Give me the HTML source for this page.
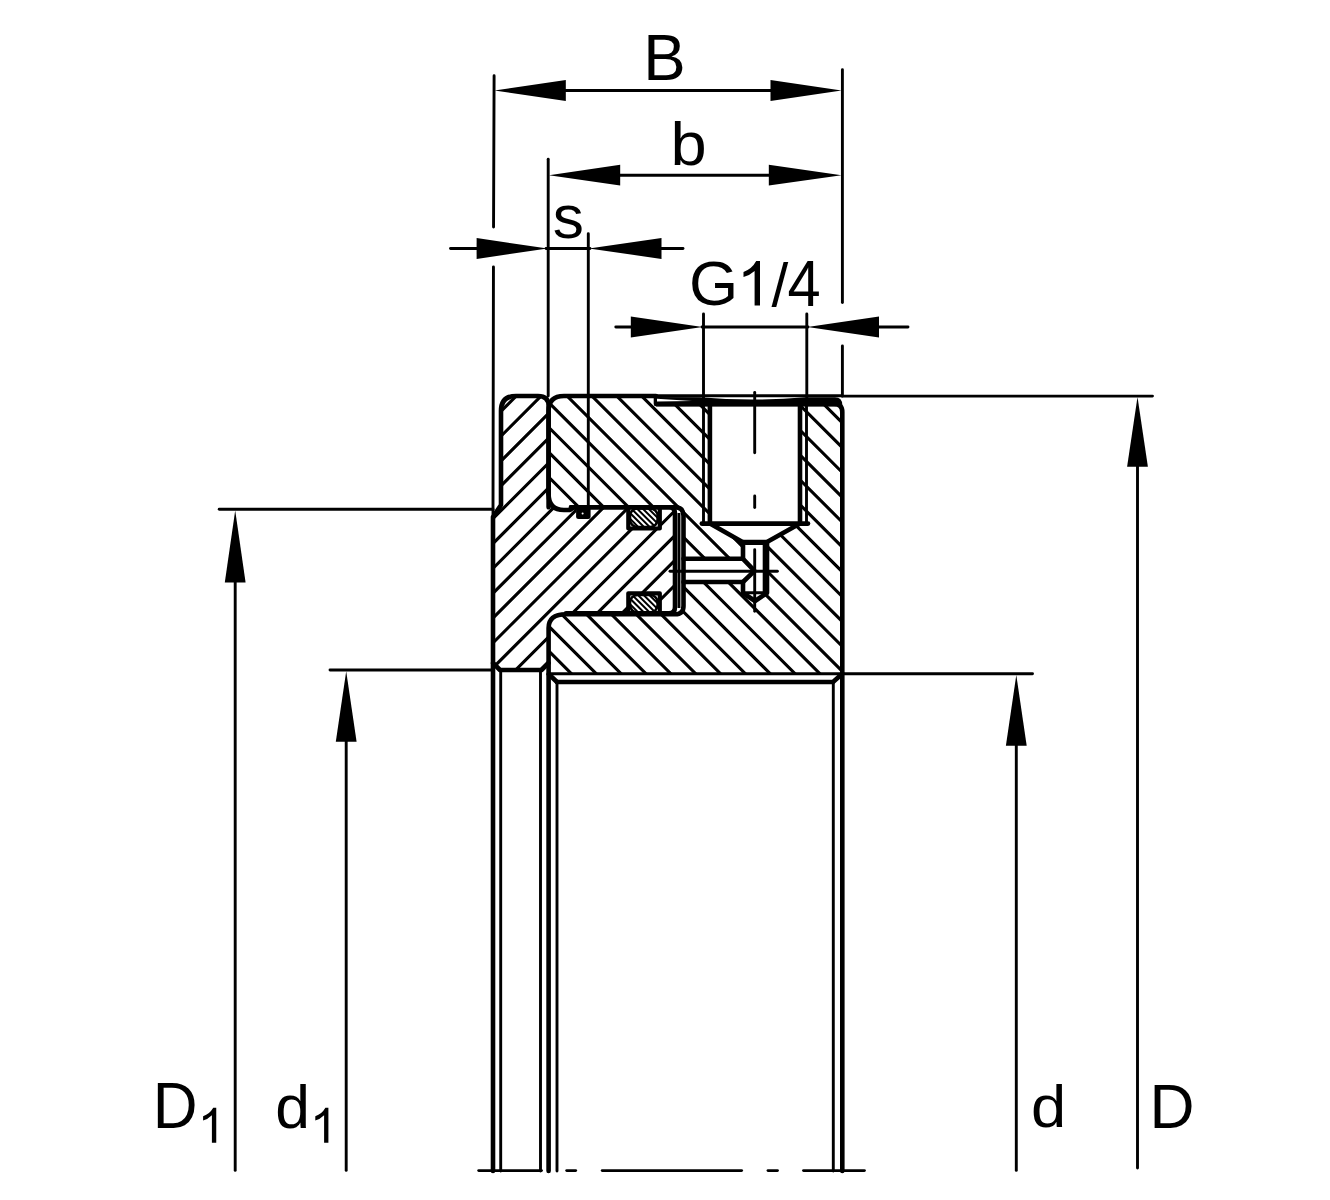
<!DOCTYPE html>
<html><head><meta charset="utf-8"><title>Bearing drawing</title>
<style>html,body{margin:0;padding:0;background:#fff;width:1330px;height:1200px;overflow:hidden;}svg{display:block;}</style></head>
<body><svg width="1330" height="1200" viewBox="0 0 1330 1200">
<rect x="0" y="0" width="1330" height="1200" fill="#fff"/>
<defs>
<clipPath id="cb"><path d="M549,411 Q549,396 564,396 L656,396 L656,404 L834,404 Q842,404 842,412 L842,673.8 L549,673.8 Z"/></clipPath>
<clipPath id="cf"><path d="M501,411 Q501,396 516,396 L538,396 Q548.6,396 548.6,406 L548.6,507 L669,507 Q675,507 675,513 L675,606 Q675,612 669,612 L566,612 Q548.6,612 548.6,628 L548.6,664 L542,670 L500,670 L493,663 L493,517 L501,505 Z"/></clipPath>
<clipPath id="or1"><rect x="630" y="508.5" width="27.6" height="18.5" rx="7.5"/></clipPath>
<clipPath id="or2"><rect x="630" y="595" width="27.6" height="17.5" rx="7.5"/></clipPath>
</defs>
<g stroke="#000" fill="none">
<g clip-path="url(#cb)"><path d="M213.15,390.00L503.15,680.00M238.00,390.00L528.00,680.00M262.85,390.00L552.85,680.00M287.70,390.00L577.70,680.00M312.55,390.00L602.55,680.00M337.40,390.00L627.40,680.00M362.25,390.00L652.25,680.00M387.10,390.00L677.10,680.00M411.95,390.00L701.95,680.00M436.80,390.00L726.80,680.00M461.65,390.00L751.65,680.00M486.50,390.00L776.50,680.00M511.35,390.00L801.35,680.00M536.20,390.00L826.20,680.00M561.05,390.00L851.05,680.00M585.90,390.00L875.90,680.00M610.75,390.00L900.75,680.00M635.60,390.00L925.60,680.00M660.45,390.00L950.45,680.00M685.30,390.00L975.30,680.00M710.15,390.00L1000.15,680.00M735.00,390.00L1025.00,680.00M759.85,390.00L1049.85,680.00M784.70,390.00L1074.70,680.00M809.55,390.00L1099.55,680.00M834.40,390.00L1124.40,680.00M859.25,390.00L1149.25,680.00M884.10,390.00L1174.10,680.00" stroke-width="3.1" fill="none"/></g>
<path d="M548.6,507 L675,507 Q683.5,507 683.5,516 L683.5,606 Q683.5,614 675,614 L566,614 Q548.6,614 548.6,628 L548.6,660 Z" fill="#fff" stroke="none"/>
<path d="M501,411 Q501,396 516,396 L538,396 Q548.6,396 548.6,406 L548.6,507 L669,507 Q675,507 675,513 L675,606 Q675,612 669,612 L566,612 Q548.6,612 548.6,628 L548.6,664 L542,670 L500,670 L493,663 L493,517 L501,505 Z" fill="#fff" stroke="none"/>
<g clip-path="url(#cf)"><path d="M157.70,680.00L447.70,390.00M182.55,680.00L472.55,390.00M207.40,680.00L497.40,390.00M232.25,680.00L522.25,390.00M257.10,680.00L547.10,390.00M281.95,680.00L571.95,390.00M306.80,680.00L596.80,390.00M331.65,680.00L621.65,390.00M356.50,680.00L646.50,390.00M381.35,680.00L671.35,390.00M406.20,680.00L696.20,390.00M431.05,680.00L721.05,390.00M455.90,680.00L745.90,390.00M480.75,680.00L770.75,390.00M505.60,680.00L795.60,390.00M530.45,680.00L820.45,390.00M555.30,680.00L845.30,390.00M580.15,680.00L870.15,390.00M605.00,680.00L895.00,390.00M629.85,680.00L919.85,390.00M654.70,680.00L944.70,390.00M679.55,680.00L969.55,390.00M704.40,680.00L994.40,390.00M729.25,680.00L1019.25,390.00" stroke-width="3.1" fill="none"/></g>
<rect x="576.5" y="507" width="12.7" height="11.8" fill="#fff" stroke="none"/>
<rect x="628.3" y="507" width="31.5" height="21.5" fill="#fff" stroke="none"/>
<rect x="628.3" y="593.3" width="31.5" height="19.5" fill="#fff" stroke="none"/>
<path d="M709.9,404 L800,404 L800,523.6 L767,542 L767,593 L755,601 L743,593 L743,582 L683.5,582 L683.5,558.8 L743,558.8 L743,542 L709.9,523.6 Z" fill="#fff" stroke="none"/>
<path d="M656,396 L842,396 L842,404 L656,404 Z" fill="#fff" stroke="none"/>
<g clip-path="url(#or1)"><path d="M587.80,505.00L614.80,532.00M593.50,505.00L620.50,532.00M599.20,505.00L626.20,532.00M604.90,505.00L631.90,532.00M610.60,505.00L637.60,532.00M616.30,505.00L643.30,532.00M622.00,505.00L649.00,532.00M627.70,505.00L654.70,532.00M633.40,505.00L660.40,532.00M639.10,505.00L666.10,532.00M644.80,505.00L671.80,532.00M650.50,505.00L677.50,532.00M656.20,505.00L683.20,532.00M661.90,505.00L688.90,532.00M667.60,505.00L694.60,532.00M673.30,505.00L700.30,532.00" stroke-width="2.0" fill="none"/></g>
<g clip-path="url(#or2)"><path d="M593.00,590.00L618.00,615.00M598.70,590.00L623.70,615.00M604.40,590.00L629.40,615.00M610.10,590.00L635.10,615.00M615.80,590.00L640.80,615.00M621.50,590.00L646.50,615.00M627.20,590.00L652.20,615.00M632.90,590.00L657.90,615.00M638.60,590.00L663.60,615.00M644.30,590.00L669.30,615.00M650.00,590.00L675.00,615.00M655.70,590.00L680.70,615.00M661.40,590.00L686.40,615.00M667.10,590.00L692.10,615.00M672.80,590.00L697.80,615.00" stroke-width="2.0" fill="none"/></g>
<rect x="630" y="508.5" width="27.6" height="18.5" rx="7.5" stroke-width="2.6"/>
<rect x="630" y="595" width="27.6" height="17.5" rx="7.5" stroke-width="2.6"/>
<path d="M548.6,507.3 L548.6,406 Q548.6,396 538,396 L516,396 Q501,396 501,411 L501,505 L493,517 L493,663 L500,670 L541.5,670 L548.6,663" stroke-width="4.6" fill="none" stroke-linejoin="round" stroke-linecap="round" />
<path d="M548.6,494 L548.6,411 Q548.6,396 564,396 L656,396 L656,404 L834,404 Q842.3,404 842.3,412 L842.3,1171" stroke-width="4.6" fill="none" stroke-linejoin="round" stroke-linecap="round" />
<path d="M548.6,494 Q548.6,510 564,510 L570,510 L573,507.8" stroke-width="4.6" fill="none" stroke-linejoin="round" stroke-linecap="round" />
<path d="M571,507.3 L669,507.3 Q675,507.3 675,513.5 L675,607 Q675,613.2 669,613.2 L566,613.2" stroke-width="4.6" fill="none" stroke-linejoin="round" stroke-linecap="round" />
<path d="M571,507.3 L675,507.3 Q683.5,507.3 683.5,516 L683.5,606 Q683.5,614.3 675,614.3 L566,614.3 Q548.6,614.3 548.6,628 L548.6,1171" stroke-width="4.6" fill="none" stroke-linejoin="round" stroke-linecap="round" />
<line x1="679" y1="513" x2="679" y2="608" stroke-width="2.9"/>
<path d="M493,663 L493,1171" stroke-width="4.6" fill="none" stroke-linejoin="round" stroke-linecap="round" />
<path d="M557,682 L833,682 L842.3,673.8" stroke-width="4.6" fill="none" stroke-linejoin="round" stroke-linecap="round" />
<path d="M548.6,674 L557,682" stroke-width="4.6" fill="none" stroke-linejoin="round" stroke-linecap="round" />
<line x1="548.6" y1="673.8" x2="842.3" y2="673.8" stroke-width="2.9" stroke-linecap="round"/>
<rect x="576.1" y="506" width="14.5" height="13.1" rx="2.5" fill="#000" stroke="none"/><circle cx="582.6" cy="513.6" r="1.0" fill="#fff" stroke="none"/>
<path d="M628.3,507 L628.3,528.5 L659.8,528.5 L659.8,507" stroke-width="4.2" fill="none" stroke-linejoin="round" stroke-linecap="round" />
<path d="M628.3,612 L628.3,593.3 L659.8,593.3 L659.8,612" stroke-width="4.2" fill="none" stroke-linejoin="round" stroke-linecap="round" />
<path d="M701.8,523.6 L808,523.6" stroke-width="4.6" fill="none" stroke-linejoin="round" stroke-linecap="round" />
<path d="M709.9,404 L709.9,523.6 L742.5,542 L767,542 L800,523.6 L800,404" stroke-width="4.6" fill="none" stroke-linejoin="round" stroke-linecap="round" />
<line x1="703.5" y1="404" x2="703.5" y2="523.6" stroke-width="2.9" stroke-linecap="round"/>
<line x1="806.5" y1="404" x2="806.5" y2="523.6" stroke-width="2.9" stroke-linecap="round"/>
<path d="M743,542 L743,558.8 L683.5,558.8" stroke-width="4.6" fill="none" stroke-linejoin="round" stroke-linecap="round" />
<path d="M683.5,582 L743,582 L743,593 L755,601 L767,593 L767,542" stroke-width="4.6" fill="none" stroke-linejoin="round" stroke-linecap="round" />
<path d="M743,558.8 L754.5,570.8 L743,582" stroke-width="4.6" fill="none" stroke-linejoin="round" stroke-linecap="round" />
<line x1="745.5" y1="543.5" x2="764" y2="543.5" stroke-width="2.9" stroke-linecap="round"/>
<line x1="745.5" y1="592.7" x2="764" y2="592.7" stroke-width="2.9" stroke-linecap="round"/>
<line x1="764" y1="543.5" x2="764" y2="592.7" stroke-width="2.61" stroke-linecap="round"/>
<line x1="754.7" y1="392.4" x2="754.7" y2="452.8" stroke-width="2.9" stroke-linecap="round"/>
<line x1="754.7" y1="496" x2="754.7" y2="507.5" stroke-width="2.9" stroke-linecap="round"/>
<line x1="754.7" y1="549.8" x2="754.7" y2="611.2" stroke-width="2.9" stroke-linecap="round"/>
<line x1="670" y1="571.2" x2="777.4" y2="571.2" stroke-width="2.9" stroke-linecap="round"/>
<path d="M656,397 L700,397.2 Q752,402 805,397.2 L835,397.2 Q842.3,397.3 842.3,405 L842.3,406.5 L656,406.5 Z" fill="#000" stroke="none"/>
<path d="M657,398.8 L692,401 L657,401.4 Z" fill="#fff" stroke="none"/>
<line x1="656" y1="395.8" x2="842" y2="395.8" stroke-width="2.9"/>
<line x1="500.7" y1="670" x2="500.7" y2="1171" stroke-width="2.9" stroke-linecap="round"/>
<line x1="540.5" y1="670" x2="540.5" y2="1171" stroke-width="2.9" stroke-linecap="round"/>
<line x1="557" y1="682" x2="557" y2="1171" stroke-width="2.9" stroke-linecap="round"/>
<line x1="833.3" y1="682" x2="833.3" y2="1171" stroke-width="2.9" stroke-linecap="round"/>
<line x1="494.1" y1="75.7" x2="493.55" y2="227" stroke-width="2.9" stroke-linecap="round"/>
<line x1="493.45" y1="267" x2="493.0" y2="516" stroke-width="2.9" stroke-linecap="round"/>
<line x1="842.4" y1="69.8" x2="842.4" y2="302.5" stroke-width="2.9" stroke-linecap="round"/>
<line x1="842.4" y1="346" x2="842.4" y2="396" stroke-width="2.9" stroke-linecap="round"/>
<line x1="565" y1="90.5" x2="771" y2="90.5" stroke-width="2.9" stroke-linecap="round"/>
<path d="M494.5,90.5 L565.8,80.1 L565.8,100.9 Z" fill="#000" stroke="none"/>
<path d="M841.5,90.5 L770.5,80.1 L770.5,100.9 Z" fill="#000" stroke="none"/>
<line x1="548.2" y1="159.2" x2="548.2" y2="396" stroke-width="2.9" stroke-linecap="round"/>
<line x1="619" y1="175.2" x2="770" y2="175.2" stroke-width="2.9" stroke-linecap="round"/>
<path d="M549,175.2 L620.2,164.79999999999998 L620.2,185.6 Z" fill="#000" stroke="none"/>
<path d="M841.5,175.2 L768.8,164.79999999999998 L768.8,185.6 Z" fill="#000" stroke="none"/>
<line x1="450.5" y1="248.5" x2="478" y2="248.5" stroke-width="2.9" stroke-linecap="round"/>
<line x1="546" y1="248.5" x2="590" y2="248.5" stroke-width="2.9" stroke-linecap="round"/>
<line x1="660" y1="248.5" x2="683" y2="248.5" stroke-width="2.9" stroke-linecap="round"/>
<path d="M547.5,248.5 L476.6,238.1 L476.6,258.9 Z" fill="#000" stroke="none"/>
<path d="M589,248.5 L661.5,238.1 L661.5,258.9 Z" fill="#000" stroke="none"/>
<line x1="588.3" y1="233.8" x2="588.3" y2="507" stroke-width="2.9" stroke-linecap="round"/>
<line x1="615.8" y1="327" x2="632" y2="327" stroke-width="2.9" stroke-linecap="round"/>
<line x1="702" y1="327" x2="808" y2="327" stroke-width="2.9" stroke-linecap="round"/>
<line x1="878" y1="327" x2="908" y2="327" stroke-width="2.9" stroke-linecap="round"/>
<path d="M702.5,327 L630.8,316.6 L630.8,337.4 Z" fill="#000" stroke="none"/>
<path d="M807.5,327 L879,316.6 L879,337.4 Z" fill="#000" stroke="none"/>
<line x1="703.5" y1="314" x2="703.5" y2="404" stroke-width="2.9" stroke-linecap="round"/>
<line x1="806.8" y1="314" x2="806.8" y2="404" stroke-width="2.9" stroke-linecap="round"/>
<line x1="842" y1="396.1" x2="1152.5" y2="396.1" stroke-width="2.9" stroke-linecap="round"/>
<path d="M1137.5,397 L1127.1,466.7 L1147.9,466.7 Z" fill="#000" stroke="none"/>
<line x1="1137.5" y1="466" x2="1137.5" y2="1168" stroke-width="2.9" stroke-linecap="round"/>
<line x1="219.2" y1="509.2" x2="493" y2="509.2" stroke-width="2.9" stroke-linecap="round"/>
<path d="M235.2,510.5 L224.79999999999998,582.5 L245.6,582.5 Z" fill="#000" stroke="none"/>
<line x1="235.2" y1="582" x2="235.2" y2="1170.4" stroke-width="2.9" stroke-linecap="round"/>
<line x1="330" y1="670" x2="493" y2="670" stroke-width="2.9" stroke-linecap="round"/>
<path d="M346.2,671.3 L335.8,741.7 L356.59999999999997,741.7 Z" fill="#000" stroke="none"/>
<line x1="346.2" y1="741" x2="346.2" y2="1170.4" stroke-width="2.9" stroke-linecap="round"/>
<line x1="842" y1="673.8" x2="1032.5" y2="673.8" stroke-width="2.9" stroke-linecap="round"/>
<path d="M1016.3,675 L1005.9,745.7 L1026.7,745.7 Z" fill="#000" stroke="none"/>
<line x1="1016.3" y1="745" x2="1016.3" y2="1170.4" stroke-width="2.9" stroke-linecap="round"/>
<line x1="478.7" y1="1170.6" x2="541.5" y2="1170.6" stroke-width="2.9" stroke-linecap="round"/>
<line x1="566.7" y1="1170.6" x2="575.7" y2="1170.6" stroke-width="2.9" stroke-linecap="round"/>
<line x1="602.2" y1="1170.6" x2="741.6" y2="1170.6" stroke-width="2.9" stroke-linecap="round"/>
<line x1="768" y1="1170.6" x2="777.5" y2="1170.6" stroke-width="2.9" stroke-linecap="round"/>
<line x1="803.5" y1="1170.6" x2="864.4" y2="1170.6" stroke-width="2.9" stroke-linecap="round"/>
</g>
<g font-family="Liberation Sans, sans-serif" fill="#000">
<text transform="translate(643.16,80.00) scale(0.6368,0.6391)" font-size="100">B</text>
<text transform="translate(670.55,165.00) scale(0.6500,0.6041)" font-size="100">b</text>
<text transform="translate(552.73,238.20) scale(0.6233,0.6036)" font-size="100">s</text>
<text transform="translate(688.94,305.26) scale(0.6323,0.6366)" font-size="100">G</text>
<text transform="translate(771.50,305.80) scale(0.6036,0.6137)" font-size="100">/</text>
<text transform="translate(787.61,306.05) scale(0.5961,0.6529)" font-size="100">4</text>
<text transform="translate(152.84,1127.50) scale(0.6203,0.6391)" font-size="100">D</text>
<text transform="translate(275.30,1127.50) scale(0.6244,0.6041)" font-size="100">d</text>
<text transform="translate(1031.07,1127.30) scale(0.6333,0.5986)" font-size="100">d</text>
<text transform="translate(1149.61,1127.50) scale(0.6237,0.6362)" font-size="100">D</text>
</g>
<path d="M760,261.1 L756.22,261.1 Q751.83,269.20 743.5,271.9 L743.5,277 Q749.05,275.78 754.6,270.9 L754.6,305.4 L760,305.4 Z" fill="#000" stroke="none"/>
<path d="M216.25,1107.8 L213.21,1107.8 Q209.70,1114.10 203.1,1116.2 L203.1,1120.6 Q207.50,1119.54 211.9,1115.3 L211.9,1142.8 L216.25,1142.8 Z" fill="#000" stroke="none"/>
<path d="M328.4,1107.8 L325.39,1107.8 Q321.90,1114.10 315.3,1116.2 L315.3,1120.6 Q319.70,1119.54 324.1,1115.3 L324.1,1142.8 L328.4,1142.8 Z" fill="#000" stroke="none"/>
</svg></body></html>
